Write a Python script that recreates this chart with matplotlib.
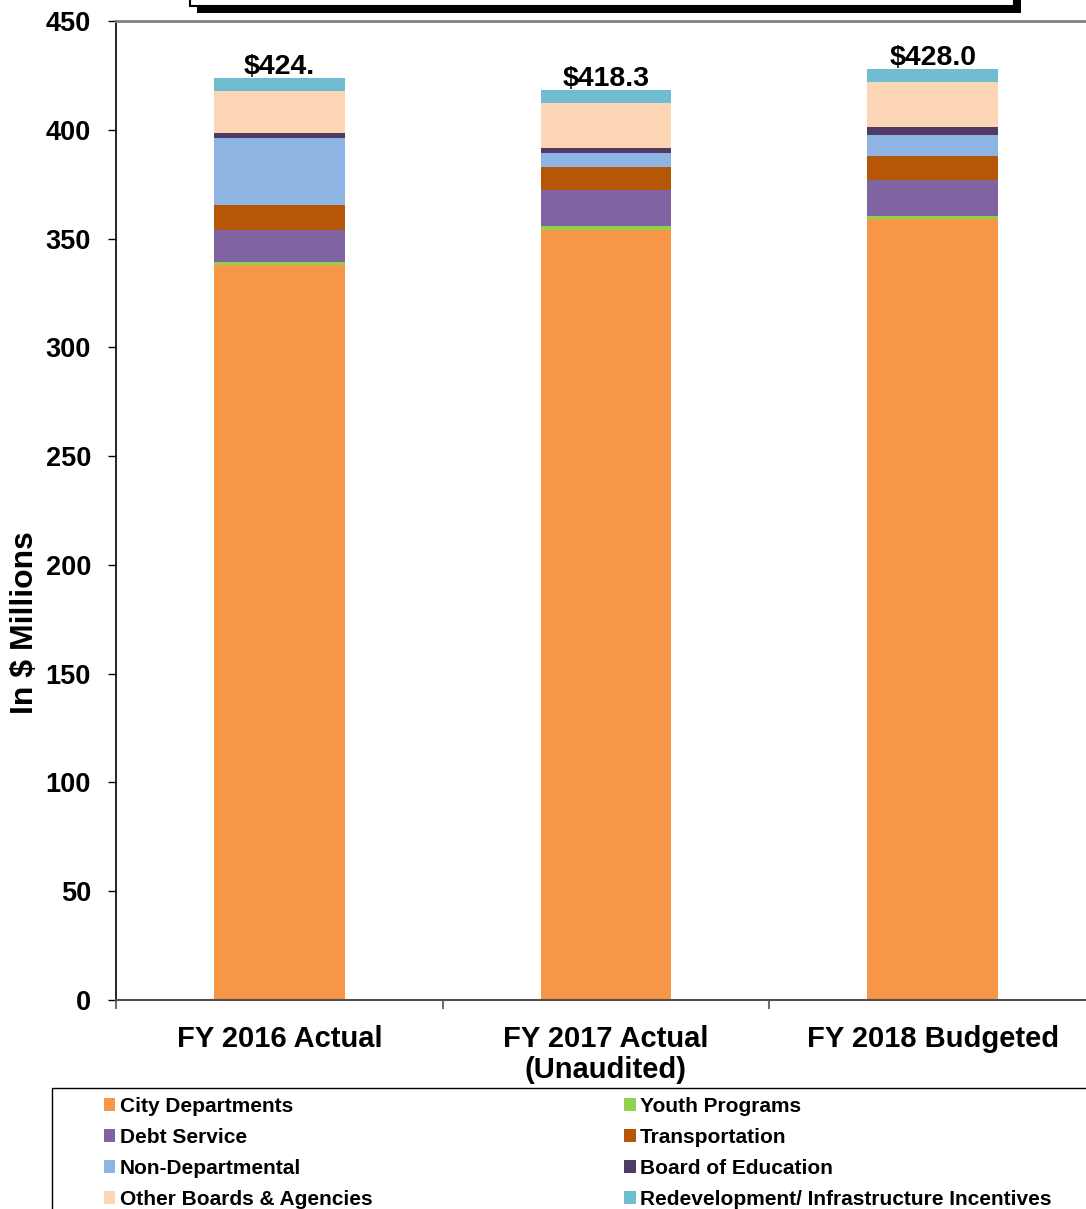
import matplotlib
matplotlib.use("Agg")
from matplotlib import pyplot as plt
from matplotlib.patches import Rectangle

plt.rcParams['font.family'] = ['Liberation Sans', 'DejaVu Sans']
plt.rcParams['font.weight'] = 'bold'

# General fund spending by category ($ millions)
years = ["FY 2016 Actual", "FY 2017 Actual\n(Unaudited)", "FY 2018 Budgeted"]
total_labels = ["$424.", "$418.3", "$428.0"]

city_departments = [337.7, 354.1, 358.8]
youth_programs = [1.7, 1.5, 1.6]
debt_service = [14.4, 16.7, 16.7]
transportation = [11.8, 10.7, 11.0]
non_departmental = [30.5, 6.3, 9.5]
board_of_education = [2.4, 2.3, 3.7]
other_boards = [19.3, 20.8, 20.8]
redevelopment = [6.2, 5.9, 5.9]

series = [
    ("City Departments", city_departments, "#F79646"),
    ("Youth Programs", youth_programs, "#92D050"),
    ("Debt Service", debt_service, "#8064A2"),
    ("Transportation", transportation, "#B65708"),
    ("Non-Departmental", non_departmental, "#8EB4E3"),
    ("Board of Education", board_of_education, "#4F3B63"),
    ("Other Boards & Agencies", other_boards, "#FCD5B5"),
    ("Redevelopment/ Infrastructure Incentives", redevelopment, "#70BCD0"),
]

W, H = 1086, 1209
fig = plt.figure(figsize=(W / 100, H / 100), dpi=100)
ax = fig.add_axes([116 / W, 1 - 1000 / H, 980 / W, 979 / H])

x = list(range(len(years)))
bottom = [0.0] * len(years)
handles = {}
for name, vals, color in series:
    bars = ax.bar(x, vals, 0.4, bottom=bottom, color=color, linewidth=0)
    handles[name] = bars
    bottom = [b + v for b, v in zip(bottom, vals)]

for xi, top, lab in zip(x, bottom, total_labels):
    ax.annotate(lab, (xi, top), xytext=(0, -1.5), textcoords="offset points",
                ha="center", va="bottom", fontsize=20.5, fontweight="bold")

ax.set_xlim(-0.5, 2.5)
ax.set_ylim(0, 450)
ax.set_yticks(range(0, 451, 50))
ax.tick_params(axis="y", labelsize=19.5, length=6, width=1, direction="out", pad=12)
ax.set_xticks(x)
ax.set_xticklabels(years, fontsize=21, fontweight="bold", linespacing=1.15)
ax.set_xticks([-0.5, 0.5, 1.5, 2.5], minor=True)
ax.tick_params(axis="x", which="major", length=0, pad=18)
ax.tick_params(axis="x", which="minor", length=6.5, width=1.5, color="#707070")
ax.set_ylabel("In $ Millions", fontsize=23, fontweight="bold")
ax.yaxis.set_label_coords(-76 / 980, 0.386)
ax.spines["top"].set_color("#808080")
ax.spines["top"].set_linewidth(2)
ax.spines["bottom"].set_color("#505050")
ax.spines["bottom"].set_linewidth(1.5)
ax.spines["right"].set_visible(False)
ax.spines["left"].set_linewidth(1.2)

# title box cut off at the top, with its drop shadow
fig.patches.append(Rectangle((197 / W, 1 - 13 / H), 824 / W, 0.1,
                             transform=fig.transFigure, facecolor="black",
                             edgecolor="none", zorder=1))
fig.patches.append(Rectangle((190 / W, 1 - 6 / H), 824 / W, 0.1,
                             transform=fig.transFigure, facecolor="white",
                             edgecolor="black", linewidth=1.5, zorder=2))

# legend frame runs off the figure edge
fig.patches.append(Rectangle((52 / W, -0.05), 1.0, 0.05 + 1 - 1088 / H,
                             transform=fig.transFigure, facecolor="none",
                             edgecolor="black", linewidth=1))
order = ["City Departments", "Debt Service", "Non-Departmental", "Other Boards & Agencies",
         "Youth Programs", "Transportation", "Board of Education",
         "Redevelopment/ Infrastructure Incentives"]
fig.legend([handles[n] for n in order], order, loc="upper left",
           bbox_to_anchor=(104 / W, 1 - 1097 / H), ncol=2, frameon=False,
           handlelength=0.55, handleheight=0.55, handletextpad=0.2,
           columnspacing=12.1, labelspacing=0.57, borderpad=0, borderaxespad=0,
           prop={"weight": "bold", "size": 15})

fig.savefig("out.png", dpi=100)
